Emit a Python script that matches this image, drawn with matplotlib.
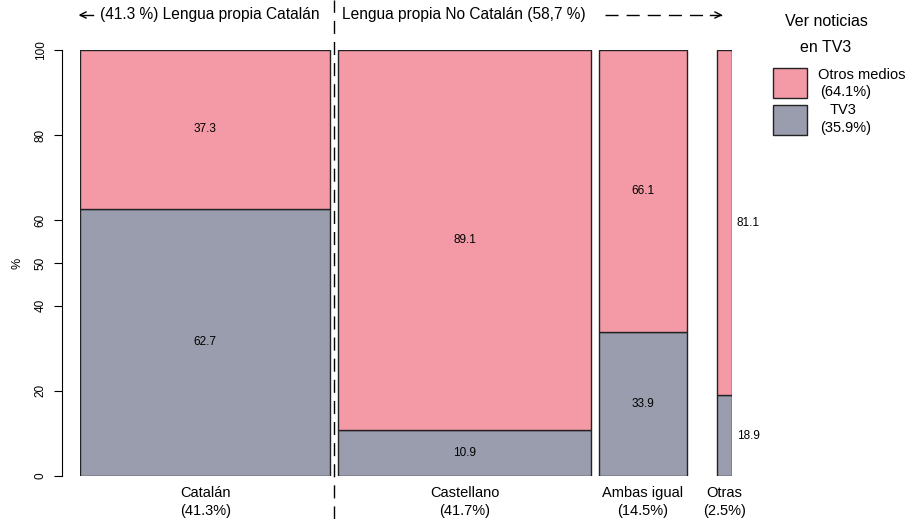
import matplotlib.pyplot as plt
from matplotlib.lines import Line2D
from matplotlib.patches import Rectangle

plt.rcParams['font.family'] = ['Liberation Sans', 'DejaVu Sans']

categorias = ['Catalán', 'Castellano', 'Ambas igual', 'Otras']
pct_cat = [41.3, 41.7, 14.5, 2.5]
tv3 = [62.7, 10.9, 33.9, 18.9]
otros = [37.3, 89.1, 66.1, 81.1]
gaps = [0, 1.32, 1.32, 4.95]

col_otros = '#F49AA7'
col_tv3 = '#9A9DAD'
dash = (0, (9.4, 5.8))

W, H = 906, 519
fig = plt.figure(figsize=(W / 100, H / 100), dpi=100)
ax = fig.add_axes([80 / W, (H - 476) / H, 652 / W, 426 / H])

x = 0
for i, cat in enumerate(categorias):
    x += gaps[i]
    w = pct_cat[i]
    ax.add_patch(Rectangle((x, 0), w, tv3[i], facecolor=col_tv3, edgecolor='#222222', lw=1))
    ax.add_patch(Rectangle((x, tv3[i]), w, otros[i], facecolor=col_otros, edgecolor='#222222', lw=1))
    cx = x + w / 2
    if cat == 'Otras':
        tx, ha = x + w + 0.8, 'left'
    else:
        tx, ha = cx, 'center'
    ax.text(tx, tv3[i] / 2, f'{tv3[i]}', ha=ha, va='center', fontsize=8.5)
    ax.text(tx, tv3[i] + otros[i] / 2, f'{otros[i]}', ha=ha, va='center', fontsize=8.5)
    ax.text(cx, -2.3, f'{cat}\n({pct_cat[i]}%)', ha='center', va='top', fontsize=10.5,
            linespacing=1.35)
    x += w

ax.set_xlim(0, x)
ax.set_ylim(0, 100)
for s in ['top', 'right', 'bottom']:
    ax.spines[s].set_visible(False)
ax.spines['left'].set_position(('outward', 13))
ax.spines['left'].set_bounds(0, 100)
ax.set_xticks([])
ax.set_yticks([0, 20, 40, 50, 60, 80, 100])
ax.tick_params(axis='y', length=6, labelsize=8.5, pad=5)
for lab in ax.get_yticklabels():
    lab.set_rotation(90)
    lab.set_va('center')
ax.set_ylabel('%', fontsize=9, labelpad=8)

# linea discontinua divisoria
fig.add_artist(Line2D([334 / W, 334 / W], [0, 1], color='black', lw=1, ls=dash))

# anotaciones superiores
yt = 1 - 15 / H
fig.add_artist(Line2D([80 / W, 93 / W], [yt, yt], color='black', lw=1))
fig.add_artist(Line2D([86 / W, 80 / W, 86 / W], [yt + 3 / H, yt, yt - 3 / H], color='black', lw=1))
fig.text(100 / W, yt, '(41.3 %) Lengua propia Catalán', ha='left', va='center', fontsize=11.2)
fig.text(342 / W, yt, 'Lengua propia No Catalán (58,7 %)', ha='left', va='center', fontsize=11.2)
fig.add_artist(Line2D([605 / W, 705 / W], [yt, yt], color='black', lw=1, ls=dash))
fig.add_artist(Line2D([710 / W, 721 / W], [yt, yt], color='black', lw=1))
fig.add_artist(Line2D([715 / W, 721 / W, 715 / W], [yt + 3 / H, yt, yt - 3 / H], color='black', lw=1))

# leyenda
fig.text(826 / W, 1 - 22 / H, 'Ver noticias', ha='center', va='center', fontsize=11.5)
fig.text(826 / W, 1 - 47 / H, 'en TV3', ha='center', va='center', fontsize=11.5)
fig.add_artist(Rectangle((773 / W, 1 - 98 / H), 34 / W, 30 / H, facecolor=col_otros,
                         edgecolor='#222222', lw=1, transform=fig.transFigure))
fig.add_artist(Rectangle((773 / W, 1 - 135 / H), 34 / W, 30 / H, facecolor=col_tv3,
                         edgecolor='#222222', lw=1, transform=fig.transFigure))
fig.text(818 / W, 1 - 75 / H, 'Otros medios', ha='left', va='center', fontsize=10.5)
fig.text(820 / W, 1 - 92 / H, '(64.1%)', ha='left', va='center', fontsize=10.5)
fig.text(843 / W, 1 - 110 / H, 'TV3', ha='center', va='center', fontsize=10.5)
fig.text(820 / W, 1 - 128 / H, '(35.9%)', ha='left', va='center', fontsize=10.5)

fig.savefig('out.png', dpi=100)
